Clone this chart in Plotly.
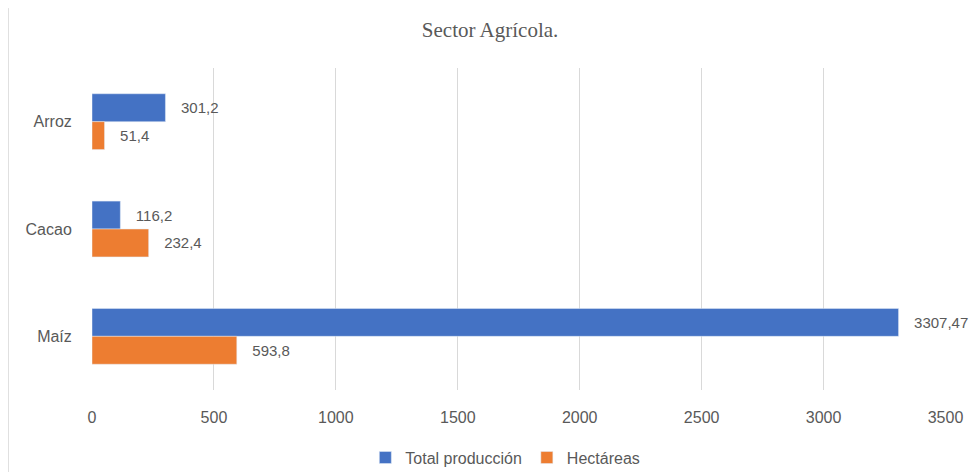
import plotly.graph_objects as go

cultivos = ['Arroz', 'Cacao', 'Maíz']
total_produccion = [301.2, 116.2, 3307.47]
hectareas = [51.4, 232.4, 593.8]
x_ticks = [0, 500, 1000, 1500, 2000, 2500, 3000, 3500]

gris = '#595959'
fuente = 'Liberation Sans, Arial, sans-serif'


def etiqueta(v):
    # decimal con coma, con un poco de aire antes del texto
    return '\u00a0\u00a0\u00a0' + str(v).replace('.', ',')


fig = go.Figure()

fig.add_trace(go.Bar(
    y=cultivos,
    x=total_produccion,
    name='Total producción',
    orientation='h',
    marker_color='#4472C4',
    text=[etiqueta(v) for v in total_produccion],
    textposition='outside',
    textfont=dict(size=15, color=gris, family=fuente),
    cliponaxis=False,
    constraintext='none',
))

fig.add_trace(go.Bar(
    y=cultivos,
    x=hectareas,
    name='Hectáreas',
    orientation='h',
    marker_color='#ED7D31',
    text=[etiqueta(v) for v in hectareas],
    textposition='outside',
    textfont=dict(size=15, color=gris, family=fuente),
    cliponaxis=False,
    constraintext='none',
))

# la página deja 8px de margen arriba y a la izquierda
fig.update_layout(
    title=dict(
        text='Sector Agrícola.',
        x=0.497, xanchor='center',
        y=0.953, yanchor='middle',
        font=dict(family='Liberation Serif, DejaVu Serif, serif', size=21, color=gris),
        automargin=False,
    ),
    barmode='group',
    bargap=0.48,
    bargroupgap=0,
    width=970,
    height=464,
    margin=dict(l=84, r=32, t=60, b=82, autoexpand=False),
    paper_bgcolor='white',
    plot_bgcolor='white',
    font=dict(family=fuente, size=16, color=gris),
    showlegend=True,
    legend=dict(
        orientation='h',
        x=0.484, xanchor='center',
        y=-0.21, yanchor='middle',
        font=dict(size=16, color=gris),
        itemwidth=30,
        tracegroupgap=0,
    ),
    shapes=[dict(
        type='line', xref='paper', yref='paper',
        x0=-0.098, x1=-0.098, y0=-0.26, y1=1.186,
        line=dict(color='#d9d9d9', width=1),
    )],
)

fig.update_xaxes(
    range=[0, 3502],
    tickvals=x_ticks,
    ticktext=[str(t) for t in x_ticks],
    showgrid=True,
    gridcolor='#d9d9d9',
    gridwidth=1,
    zeroline=False,
    showline=False,
    ticks='outside',
    ticklen=13,
    tickcolor='rgba(0,0,0,0)',
    tickfont=dict(size=16, color=gris),
    automargin=False,
)

fig.update_yaxes(
    categoryorder='array',
    categoryarray=cultivos,
    autorange='reversed',
    showgrid=False,
    zeroline=False,
    showline=False,
    ticks='outside',
    ticklen=16,
    tickcolor='rgba(0,0,0,0)',
    tickfont=dict(size=16, color=gris),
    automargin=False,
)

fig.write_html('out.html')
